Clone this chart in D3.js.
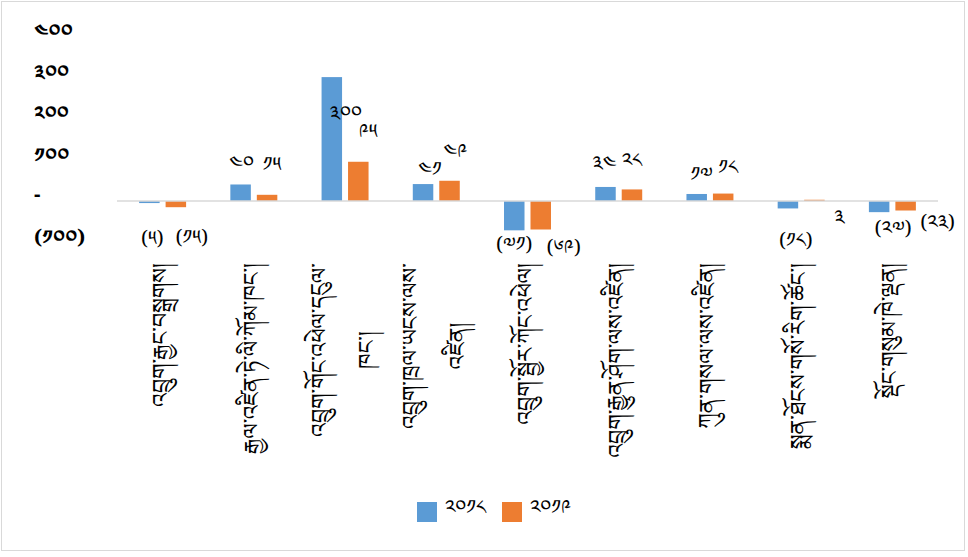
<!DOCTYPE html>
<html>
<head>
<meta charset="utf-8">
<script src="https://cdn.jsdelivr.net/npm/d3@7"></script>
<style>
  html, body { margin: 0; padding: 0; background: #fff; }
  svg { display: block; }
  .tib { font-family: "Noto Serif Tibetan", "Noto Sans Tibetan", "Jomolhari", "Microsoft Himalaya", "Tibetan Machine Uni", "DejaVu Sans", sans-serif; fill: #000; }
</style>
</head>
<body>
<svg id="chart" width="968" height="557"></svg>
<script>
// ---- data ----
const categories = [
  ["འབྲུག་རྒྱང་བསྒྲགས།"],
  ["རྒྱལ་འཛིན་ཏེ་ལི་ཀོམ་ཁང་།"],
  ["འབྲུག་གོང་འཕེལ་དངུལ་", "ཁང་།"],
  ["འབྲུག་ཁྲལ་ཡངས་ལས་", "འཛིན།"],
  ["འབྲུག་སྦྱོར་ཀོང་འཕེལ།"],
  ["འབྲུག་རྒྱུན་ཤོག་ལས་འཛིན།"],
  ["ཀུན་གསལ་ལས་འཛིན།"],
  ["སྨན་ཐོངས་གསོ་རིག་ཚོང་།"],
  ["སྡོང་གསུམ་ཁེ་ལྡན།"]
];
const seriesNames = ["༢༠༡༨", "༢༠༡༩"];
const values2018 = [-5, 40, 300, 41, -71, 34, 17, -18, -27];
const values2019 = [-15, 15, 95, 49, -69, 28, 18, 3, -23];
const tickValues = [400, 300, 200, 100, 0, -100];
const colors = ["#5b9bd5", "#ed7d31"];

// data-label nudges (dx, dy of label centre relative to the bar end), per series
const labelShift = [
  [[3, 34], [1, -22], [14, 35], [7, -16], [0, 13], [-1, -25], [5, -21], [8, 31], [14, 15]],
  [[16, 29], [5, -32], [10, -32], [6, -31], [23, 17], [0, -30], [5, -28], [25, 16], [32, 11]]
];

// ---- helpers ----
const tibDigits = "༠༡༢༣༤༥༦༧༨༩";
function toTib(n) {
  return String(Math.abs(n)).replace(/[0-9]/g, d => tibDigits[+d]);
}
function fmt(n) {
  if (n === 0) return "-";
  return n < 0 ? "(" + toTib(n) + ")" : toTib(n);
}

const svg = d3.select("#chart");

// border
svg.append("rect").attr("x", 1.5).attr("y", 1.5).attr("width", 963).attr("height", 549)
  .attr("fill", "#fff").attr("stroke", "#d9d9d9").attr("stroke-width", 1);

const series = [values2018, values2019];
const x0 = d3.scaleBand().domain(d3.range(categories.length)).range([117, 938]).paddingInner(0.485).paddingOuter(0.2425);
const x1 = d3.scaleBand().domain([0, 1]).range([0, x0.bandwidth()]).paddingInner(0.226);
const y = d3.scaleLinear().domain([-100, 400]).range([242.3, 35.8]);

// y tick labels (Excel accounting format, no axis line)
svg.append("g").selectAll("text").data(tickValues).join("text")
  .attr("class", "tib")
  .attr("x", 34)
  .attr("y", d => y(d) + 2)
  .attr("font-size", 20)
  .attr("font-weight", "bold")
  .text(d => fmt(d));

// bars
const groups = svg.append("g").selectAll("g").data(categories).join("g")
  .attr("transform", (d, i) => `translate(${x0(i)},0)`);
const pts = (d, i) => series.map((s, k) => ({ k, i, v: s[i] }));
groups.selectAll("rect").data(pts).join("rect")
  .attr("x", d => x1(d.k))
  .attr("width", x1.bandwidth())
  .attr("y", d => y(Math.max(0, d.v)))
  .attr("height", d => Math.abs(y(d.v) - y(0)))
  .attr("fill", d => colors[d.k]);

// zero line
svg.append("line").attr("x1", x0.range()[0]).attr("x2", x0.range()[1])
  .attr("y1", y(0)).attr("y2", y(0)).attr("stroke", "#d9d9d9").attr("stroke-width", 1.5);

// data labels
groups.selectAll("text").data(pts).join("text")
  .attr("class", "tib")
  .attr("font-size", 20)
  .attr("text-anchor", "middle")
  .attr("x", d => x1(d.k) + x1.bandwidth() / 2 + labelShift[d.k][d.i][0])
  .attr("y", d => y(d.v) + labelShift[d.k][d.i][1] + 8)
  .text(d => fmt(d.v));

// category labels (rotated, multi-line centred)
const labelTop = 263;
const lineGap = 47;
categories.forEach((lines, i) => {
  const cx = x0(i) + x0.bandwidth() / 2;
  const g = svg.append("g").attr("transform", `translate(${cx},${labelTop}) rotate(-90)`);
  const off = (lines.length - 1) * lineGap / 2;
  const first = g.append("text").attr("class", "tib").attr("font-size", 22)
    .attr("text-anchor", "end").attr("x", 0).attr("y", -off + 5).text(lines[0]);
  const L = first.node().getComputedTextLength();
  for (let j = 1; j < lines.length; j++) {
    g.append("text").attr("class", "tib").attr("font-size", 22)
      .attr("text-anchor", "middle").attr("x", -L / 2).attr("y", -off + j * lineGap + 5).text(lines[j]);
  }
});

// legend
const legend = svg.append("g");
seriesNames.forEach((name, k) => {
  const lx = 417 + k * 85;
  legend.append("rect").attr("x", lx).attr("y", 502).attr("width", 20).attr("height", 20).attr("fill", colors[k]);
  legend.append("text").attr("class", "tib").attr("font-size", 20).attr("x", lx + 28).attr("y", 514).text(name);
});
</script>
</body>
</html>
